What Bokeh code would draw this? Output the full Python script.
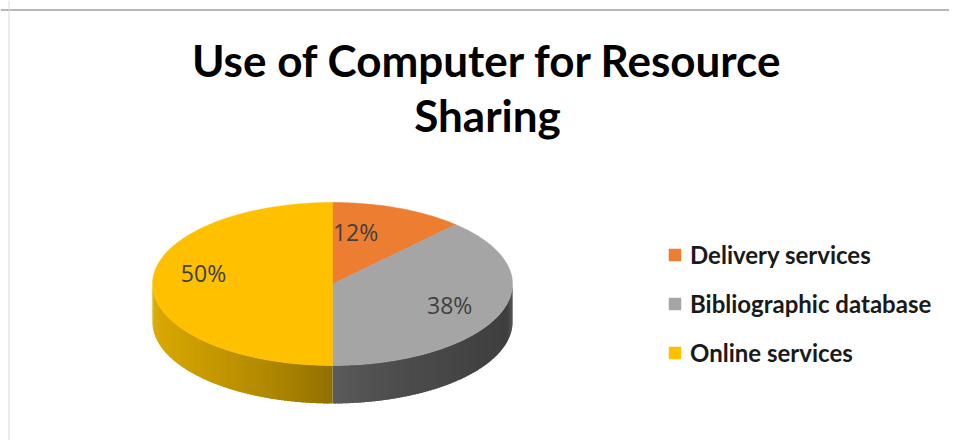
import numpy as np
from bokeh.plotting import figure
from bokeh.models import ColumnDataSource, Legend, LegendItem, Span, Range1d
from bokeh.core.properties import value
from bokeh.embed import file_html
from bokeh.resources import INLINE

# ---- data ----
title_lines = ["Use of Computer for Resource", "Sharing"]
categories = ["Delivery services", "Bibliographic database", "Online services"]
shares = [12, 38, 50]
top_colors = ["#ED7D31", "#A5A5A5", "#FFC000"]
side_light = ["#C8601A", "#5C5C5C", "#D9A800"]
side_dark = ["#9A4A12", "#3E3E3E", "#8F6D00"]

# label placement (layout only)
label_factor = [0.65, 0.7, 0.7]
label_dx = [-20, 0, -3]
label_dy = [3, 0, 11]

W, H = 949, 440
p = figure(width=W, height=H, output_backend="svg", toolbar_location=None,
           x_axis_type=None, y_axis_type=None, min_border=0,
           x_range=Range1d(0, W), y_range=Range1d(0, H))
p.grid.visible = False
p.outline_line_color = None
p.background_fill_color = "white"
p.border_fill_color = "white"

cx, cy, rx, ry, depth = 332.0, 156.5, 180.0, 81.5, 38.0

fr = np.array(shares, dtype=float) / np.sum(shares)
ends = np.cumsum(fr) * 2 * np.pi
starts = ends - fr * 2 * np.pi

def hex2rgb(h):
    h = h.lstrip("#")
    return np.array([int(h[i:i + 2], 16) for i in (0, 2, 4)], dtype=float)

def rgb2hex(c):
    return "#%02x%02x%02x" % tuple(int(round(v)) for v in c)

# ---- 3D side walls (front half) drawn as overlapping gradient strips ----
sx, sy, scol = [], [], []
for i in range(len(shares)):
    a0 = max(starts[i], np.pi / 2)
    a1 = min(ends[i], 3 * np.pi / 2)
    if a1 <= a0:
        continue
    n = max(2, int((a1 - a0) / 0.02))
    edges = np.linspace(a0, a1, n + 1)
    c0, c1 = hex2rgb(side_light[i]), hex2rgb(side_dark[i])
    for k in range(n):
        e1 = min(edges[k + 1] + 0.012, a1)
        t = np.linspace(edges[k], e1, 5)
        xs = cx + rx * np.sin(t)
        ys = cy + ry * np.cos(t)
        px = list(xs) + list(xs[::-1])
        py = list(ys) + list((ys - depth)[::-1])
        xm = np.mean(xs)
        if i == 2:
            u = (cx - xm) / rx
            col = c1 + (c0 - c1) * u ** 0.8
        else:
            u = (xm - cx) / rx
            col = c0 + (c1 - c0) * u ** 0.7
        sx.append(px)
        sy.append(py)
        scol.append(rgb2hex(col))

side_src = ColumnDataSource(dict(xs=sx, ys=sy, c=scol))
p.patches("xs", "ys", source=side_src, fill_color="c", line_color=None)

# ---- top face ----
tx, ty = [], []
for i in range(len(shares)):
    t = np.linspace(starts[i], ends[i], max(3, int((ends[i] - starts[i]) / 0.01)))
    tx.append([cx] + list(cx + rx * np.sin(t)))
    ty.append([cy] + list(cy + ry * np.cos(t)))
top_src = ColumnDataSource(dict(xs=tx, ys=ty, c=top_colors, name=categories))
top_r = p.patches("xs", "ys", source=top_src, fill_color="c", line_color="c", line_width=0.5)

# ---- percentage labels ----
mids = (starts + ends) / 2
lx = cx + rx * np.array(label_factor) * np.sin(mids) + np.array(label_dx)
ly = cy + ry * np.array(label_factor) * np.cos(mids) + np.array(label_dy)
lab_src = ColumnDataSource(dict(x=lx, y=ly, t=["%d%%" % s for s in shares]))
p.text("x", "y", text="t", source=lab_src, text_font=value("Open Sans"),
       text_font_size="23px", text_color="#404040", text_align="center",
       text_baseline="middle")

# ---- title ----
p.text(x=[487, 487], y=[381, 326], text=title_lines, text_font=value("Lato"),
       text_font_style="bold", text_font_size="44px", text_color="#000000",
       text_align="center", text_baseline="alphabetic")

# ---- legend ----
items = [LegendItem(label=categories[i], renderers=[top_r], index=i) for i in range(len(categories))]
legend = Legend(items=items, location=(667, 73), orientation="vertical",
                glyph_width=15, glyph_height=15, label_height=20, spacing=20,
                label_standoff=8, padding=0, margin=0, border_line_color=None,
                background_fill_alpha=0, label_text_font="Lato",
                label_text_font_style="bold", label_text_font_size="24px",
                label_text_color="#1a1a1a")
p.add_layout(legend, "center")

# ---- chart border (top and left visible) ----
p.add_layout(Span(location=430.5, dimension="width", line_color="#a0a0a0", line_width=1.5))
p.add_layout(Span(location=8.5, dimension="height", line_color="#d9d9d9", line_width=1))

open("out.html", "w").write(file_html(p, INLINE))
